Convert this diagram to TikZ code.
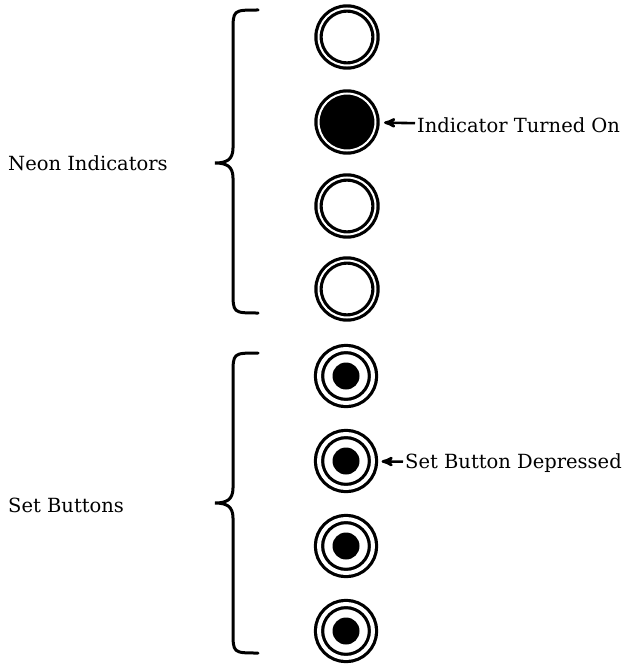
\documentclass[tikz,border=0pt]{standalone}
\usepackage{fontspec}
\setmainfont{DejaVu Serif}
\usetikzlibrary{arrows}

\begin{document}
\begin{tikzpicture}[
	x = 1pt,
	y = -1pt,
	>=stealth',
	lamp/.style = {
		draw,
		circle,
		line width = 3.2pt,
		double = white,
		double distance = 2pt,
		inner sep = 0pt,
		minimum size = 57pt
	},
	lampon/.style = {
		lamp,
		fill = black
	},
	button/.style = {
		draw,
		circle,
		line width = 3.2pt,
		double = white,
		double distance = 4pt,
		inner sep = 0pt,
		minimum size = 54pt,
		path picture = {\fill (path picture bounding box.center) circle (13.5pt);}
	},
	tag/.style = {
		font = \fontsize{19.5}{22}\selectfont,
		inner sep = 2pt
	},
	brace/.style = {
		line width = 3pt,
		line cap = round
	},
	pointer/.style = {
		->,
		line width = 2.6pt,
		shorten > = 7pt
	}
	]
	\useasboundingbox (0,0) rectangle (628,666);
	% neon indicators
	\node[lamp] (ind1) at (347,37) {};
	\node[lampon] (ind2) at (347,122) {};
	\node[lamp] (ind3) at (347,206) {};
	\node[lamp] (ind4) at (347,289) {};
	% set buttons
	\node[button] (btn1) at (346,376) {};
	\node[button] (btn2) at (346,461) {};
	\node[button] (btn3) at (346,546) {};
	\node[button] (btn4) at (346,631) {};
	% braces
	\draw[brace] (258,10) .. controls (233,10) and (233,10) .. (233,32) -- (233,148)
		.. controls (233,160) and (226,163) .. (215,163)
		.. controls (226,163) and (233,166) .. (233,178) -- (233,291)
		.. controls (233,313) and (233,313) .. (258,313);
	\draw[brace] (258,353) .. controls (233,353) and (233,353) .. (233,375) -- (233,488)
		.. controls (233,500) and (226,503) .. (215,503)
		.. controls (226,503) and (233,506) .. (233,518) -- (233,631)
		.. controls (233,653) and (233,653) .. (258,653);
	% labels
	\node[tag, anchor = west] (neon) at (6,163) {Neon Indicators};
	\node[tag, anchor = west] (set) at (6,505) {Set Buttons};
	\node[tag, anchor = west] (turnedon) at (415,125) {Indicator Turned On};
	\node[tag, anchor = west] (depressed) at (403,463) {Set Button Depressed};
	\draw[pointer] (turnedon) -- (ind2);
	\draw[pointer] (depressed) -- (btn2);
\end{tikzpicture}
\end{document}
